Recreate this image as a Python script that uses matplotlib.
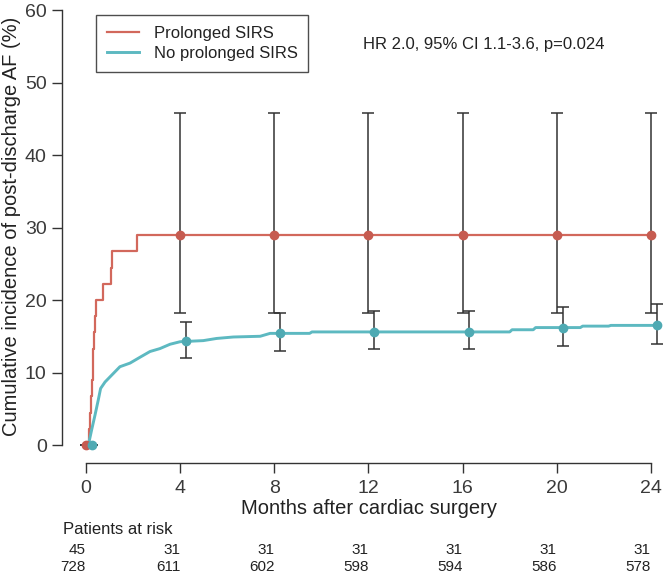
import matplotlib
matplotlib.use("Agg")
import matplotlib.pyplot as plt
import matplotlib.transforms as mtransforms

plt.rcParams['font.family'] = ['Liberation Sans', 'DejaVu Sans']

# Prolonged SIRS curve (step function)
red_t = [0, 0.14, 0.18, 0.22, 0.26, 0.28, 0.31, 0.36, 0.40, 0.42, 0.71, 1.05, 1.09, 2.18, 24]
red_v = [0, 2.2, 4.4, 6.7, 8.9, 11.1, 13.3, 15.6, 17.8, 20.0, 22.2, 24.4, 26.7, 28.9, 28.9]

# No prolonged SIRS curve (many small events, read as a polyline)
teal_t = [0, 0.1, 0.24, 0.38, 0.52, 0.62, 0.81, 1.02, 1.23, 1.44, 1.87, 2.29, 2.72, 3.14, 3.57, 4.0,
          4.98, 5.55, 6.26, 7.4, 7.82, 9.5, 9.6, 18.0, 18.1, 19.0, 19.1, 21.0, 21.1, 22.2, 22.3, 24.25]
teal_v = [0, 0, 2.1, 4.1, 6.2, 7.8, 8.7, 9.4, 10.1, 10.8, 11.3, 12.1, 12.9, 13.3, 13.9, 14.25,
          14.4, 14.7, 14.9, 15.0, 15.4, 15.4, 15.6, 15.6, 15.9, 15.9, 16.2, 16.2, 16.4, 16.4, 16.5, 16.5]

# estimates with 95% CI at the time points
months = [0, 4, 8, 12, 16, 20, 24]
red_est = [0, 28.9, 28.9, 28.9, 28.9, 28.9, 28.9]
red_lo = [0, 18.25, 18.25, 18.25, 18.25, 18.25, 18.25]
red_hi = [0, 45.8, 45.8, 45.8, 45.8, 45.8, 45.8]

teal_est = [0, 14.3, 15.4, 15.6, 15.6, 16.2, 16.5]
teal_lo = [0, 12.0, 13.0, 13.2, 13.2, 13.7, 14.0]
teal_hi = [0, 17.0, 18.2, 18.5, 18.5, 19.1, 19.4]
teal_shift = 0.25

risk_red = [45, 31, 31, 31, 31, 31, 31]
risk_teal = [728, 611, 602, 598, 594, 586, 578]

red_col = "#D2685C"
teal_col = "#5DB9C1"
ink = "#333333"

fig = plt.figure(figsize=(6.66, 5.77), dpi=100)
ax = fig.add_axes([62 / 666, 1 - 463 / 577, 600 / 666, (463 - 6.4) / 577])

ax.step(red_t, red_v, where="post", color=red_col, lw=1.6, label="Prolonged SIRS", zorder=3)
ax.plot(teal_t, teal_v, color=teal_col, lw=2.1, label="No prolonged SIRS", zorder=3)

red_err = [[e - l for e, l in zip(red_est, red_lo)], [h - e for e, h in zip(red_est, red_hi)]]
teal_err = [[e - l for e, l in zip(teal_est, teal_lo)], [h - e for e, h in zip(teal_est, teal_hi)]]
teal_x = [m + teal_shift for m in months]

ax.errorbar(months, red_est, yerr=red_err, fmt="none", ecolor=ink, elinewidth=1.1, capsize=4, capthick=1.1, zorder=4)
ax.errorbar(teal_x, teal_est, yerr=teal_err, fmt="none", ecolor=ink, elinewidth=1.1, capsize=4, capthick=1.1, zorder=4)
ax.plot(months, red_est, "o", color="#C65B50", ms=6, zorder=5)
ax.plot(teal_x, teal_est, "o", color="#4FAAB3", ms=6, zorder=5)

ax.set_xlim(-1.02, 24.47)
ax.set_ylim(-2.48, 60.5)
ax.spines["top"].set_visible(False)
ax.spines["right"].set_visible(False)
ax.spines["left"].set_bounds(0, 60)
ax.spines["bottom"].set_bounds(0, 24)
for s in ("left", "bottom"):
    ax.spines[s].set_color(ink)
    ax.spines[s].set_linewidth(1.0)

ax.set_xticks(months)
ax.set_yticks([0, 10, 20, 30, 40, 50, 60])
ax.tick_params(axis="both", colors=ink, labelcolor="#3a3a3a", labelsize=14, length=7, width=1.0)
ax.tick_params(axis="x", pad=5)
ax.tick_params(axis="y", pad=4)

fig.text(12 / 666, 1 - 226 / 577, "Cumulative incidence of post-discharge AF (%)",
         rotation=90, ha="center", va="center", fontsize=14.5, color="#222222")
fig.text((86 + 651) / 2 / 666, 1 - 509 / 577, "Months after cardiac surgery",
         ha="center", va="center", fontsize=14.5, color="#222222")

leg = ax.legend(loc="upper left", bbox_to_anchor=(96 / 666, 1 - 15 / 577), bbox_transform=fig.transFigure,
                fontsize=12, frameon=True, fancybox=False, edgecolor="#222222", borderpad=0.65,
                labelspacing=0.3, handlelength=1.95, handletextpad=0.85, borderaxespad=0)
leg.get_frame().set_linewidth(1.0)
for t in leg.get_texts():
    t.set_color("#222222")

fig.text(363 / 666, 1 - 44 / 577, "HR 2.0, 95% CI 1.1-3.6, p=0.024", ha="left", va="center",
         fontsize=12, color="#222222")

# numbers at risk
trans = mtransforms.blended_transform_factory(ax.transData, fig.transFigure)
fig.text(63 / 666, 1 - 530 / 577, "Patients at risk", ha="left", va="center", fontsize=12, color="#222222")
for m, a, b in zip(months, risk_red, risk_teal):
    ax.text(m, 1 - 550 / 577, str(a), transform=trans, ha="right", va="center", fontsize=11, color="#222222")
    ax.text(m, 1 - 567 / 577, str(b), transform=trans, ha="right", va="center", fontsize=11, color="#222222")

fig.savefig("out.png", dpi=100)
